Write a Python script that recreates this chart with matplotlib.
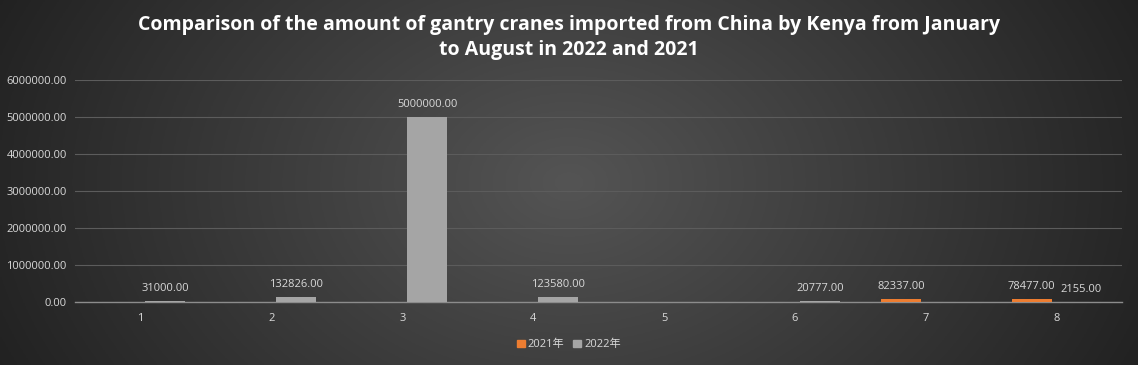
import numpy as np
import matplotlib
matplotlib.use("Agg")
import matplotlib.pyplot as plt
from matplotlib.patches import Patch

plt.rcParams['font.family'] = ['Open Sans', 'Noto Sans CJK SC', 'DejaVu Sans']

# Data
months = ["1", "2", "3", "4", "5", "6", "7", "8"]
values_2021 = [0, 0, 0, 0, 0, 0, 82337, 78477]
values_2022 = [31000, 132826, 5000000, 123580, 0, 20777, 0, 2155]
series_names = ["2021年", "2022年"]
yticks = [0, 1000000, 2000000, 3000000, 4000000, 5000000, 6000000]

title = ("Comparison of the amount of gantry cranes imported from China by Kenya from January\n"
         "to August in 2022 and 2021")

c2021 = "#ed7d31"
c2022 = "#a5a5a5"
text_col = "#d9d9d9"

fig = plt.figure(figsize=(11.38, 3.65), dpi=100)

# background radial-ish gradient
bg = fig.add_axes([0, 0, 1, 1], zorder=-10)
xx, yy = np.meshgrid(np.linspace(-1, 1, 400), np.linspace(-1, 1, 200))
r = np.sqrt(xx**2 + (yy * 0.45)**2)
shade = 0.33 - 0.18 * np.clip(r, 0, 1.2)
bg.imshow(np.dstack([shade] * 3), extent=[0, 1, 0, 1], aspect="auto", origin="lower")
bg.set_axis_off()

ax = fig.add_axes([0.066, 0.173, 0.92, 0.608])
ax.patch.set_alpha(0)

x = np.arange(len(months))
w = 0.305
off = 0.19
ax.bar(x - off, values_2021, width=w, color=c2021, zorder=3)
ax.bar(x + off, values_2022, width=w, color=c2022, zorder=3)

for i in range(len(months)):
    if values_2021[i] > 0:
        ax.annotate(f"{values_2021[i]:.2f}", (x[i] - off, values_2021[i]), xytext=(0, 5),
                    textcoords="offset points", ha="center", va="bottom", color=text_col, fontsize=8)
    if values_2022[i] > 0:
        ax.annotate(f"{values_2022[i]:.2f}", (x[i] + off, values_2022[i]), xytext=(0, 5),
                    textcoords="offset points", ha="center", va="bottom", color=text_col, fontsize=8)

ax.set_xlim(-0.5, 7.5)
ax.set_ylim(0, 6000000)
ax.set_xticks(x)
ax.set_xticklabels(months)
ax.set_yticks(yticks)
ax.set_yticklabels([f"{v:.2f}" for v in yticks])
ax.tick_params(colors=text_col, labelsize=8, length=0, pad=8)
ax.tick_params(axis="y", pad=6)
ax.grid(axis="y", color="#5c5c5c", linewidth=0.8, zorder=0)
for s in ["top", "right", "left"]:
    ax.spines[s].set_visible(False)
ax.spines["bottom"].set_color("#8c8c8c")
ax.spines["bottom"].set_linewidth(1.0)

fig.text(0.5, 0.96, title, ha="center", va="top", color="white", fontsize=14,
         fontweight="bold", linespacing=1.35)

handles = [Patch(color=c2021), Patch(color=c2022)]
fig.legend(handles, series_names, loc="center", bbox_to_anchor=(0.5, 0.055), ncol=2, frameon=False,
           fontsize=8, labelcolor=text_col, handlelength=0.7, handleheight=0.7,
           handletextpad=0.3, columnspacing=0.8)

fig.savefig("out.png", dpi=100)
